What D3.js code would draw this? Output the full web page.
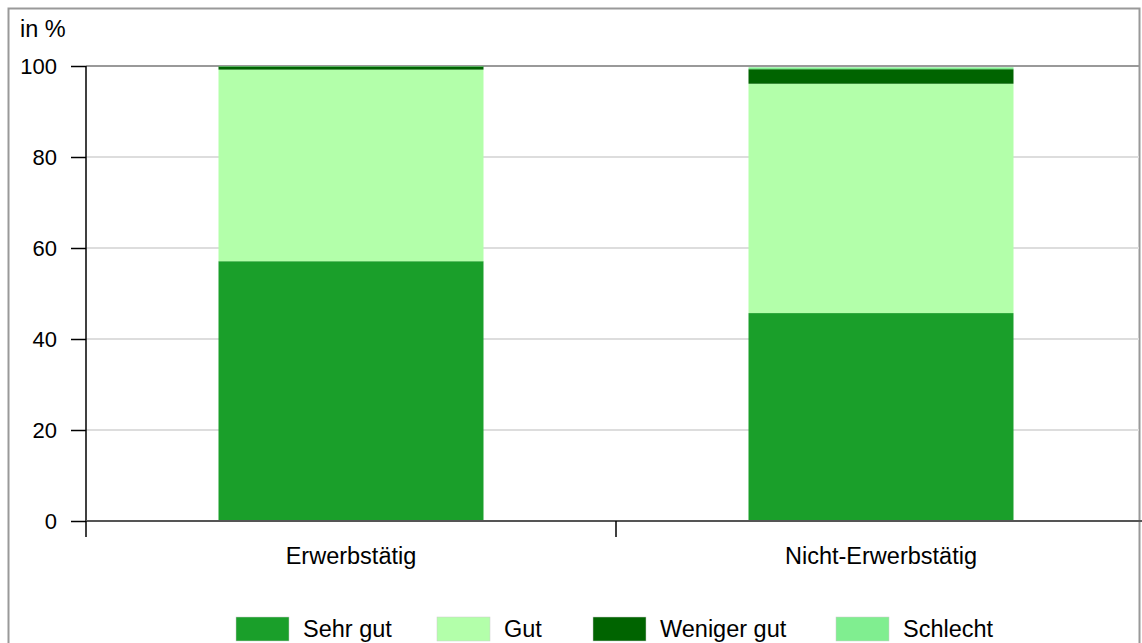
<!DOCTYPE html>
<html><head><meta charset="utf-8">
<script src="https://cdn.jsdelivr.net/npm/d3@7"></script>
<style>body{margin:0;background:#fff;}svg{display:block;font-family:"Liberation Sans",Arial,sans-serif;}</style>
</head><body><svg id="c" width="1142" height="643"></svg>
<script>
const categories = ["Erwerbstätig", "Nicht-Erwerbstätig"];
const seriesNames = ["Sehr gut", "Gut", "Weniger gut", "Schlecht"];
const sehrGut = [57.1, 45.7];
const gut = [42.1, 50.4];
const wenigerGut = [0.7, 3.2];
const schlecht = [0.1, 0.4];
const colors = ["#1a9f2a", "#b3ffaa", "#006400", "#80ee90"];
const yTicks = [0, 20, 40, 60, 80, 100];

const svg = d3.select("#c");
const m = {l: 86, t: 66, r: 1146, b: 521};
const x = d3.scaleBand().domain(categories).range([m.l, m.r]).paddingInner(0).paddingOuter(0);
const y = d3.scaleLinear().domain([0, 100]).range([m.b, m.t]);

// frame
svg.append("rect").attr("x", 8.5).attr("y", 8.5).attr("width", 1131).attr("height", 700)
  .attr("fill", "none").attr("stroke", "#999").attr("stroke-width", 2);

// gridlines
svg.append("g").selectAll("line").data(yTicks.filter(d => d > 0)).join("line")
  .attr("x1", m.l).attr("x2", 1139).attr("y1", d => y(d)).attr("y2", d => y(d))
  .attr("stroke", d => d === 100 ? "#999" : "#ddd").attr("stroke-width", 2);

const data = categories.map((c, i) => ({cat: c, "Sehr gut": sehrGut[i], "Gut": gut[i], "Weniger gut": wenigerGut[i], "Schlecht": schlecht[i]}));
const stack = d3.stack().keys(seriesNames)(data);
const bw = x.bandwidth() * 0.5;
svg.append("g").selectAll("g").data(stack).join("g")
  .attr("fill", (d, i) => colors[i])
  .selectAll("rect").data(d => d).join("rect")
  .attr("x", d => x(d.data.cat) + (x.bandwidth() - bw) / 2)
  .attr("width", bw)
  .attr("y", d => y(d[1]))
  .attr("height", d => y(d[0]) - y(d[1]));

// y axis
const ya = svg.append("g").attr("transform", `translate(${m.l},0)`)
  .call(d3.axisLeft(y).tickValues(yTicks).tickSize(15).tickPadding(14));
ya.select(".domain").attr("stroke", "#000").attr("stroke-width", 1.5).attr("d", `M0,${m.t}V${m.b}`);
ya.selectAll(".tick line").attr("stroke", "#000").attr("stroke-width", 1.5);
ya.selectAll("text").attr("font-size", 22).attr("fill", "#000").attr("font-family", "Liberation Sans, Arial, sans-serif");

// x axis
svg.append("line").attr("x1", m.l).attr("x2", 1142).attr("y1", m.b).attr("y2", m.b).attr("stroke", "#555").attr("stroke-width", 2);
svg.append("g").selectAll("line").data(categories).join("line")
  .attr("x1", d => x(d)).attr("x2", d => x(d)).attr("y1", m.b).attr("y2", m.b + 16)
  .attr("stroke", "#000").attr("stroke-width", 1.5);
svg.append("g").selectAll("text").data(categories).join("text")
  .attr("x", d => x(d) + x.bandwidth() / 2).attr("y", 564)
  .attr("text-anchor", "middle").attr("font-size", 23.5).text(d => d);

svg.append("text").attr("x", 20).attr("y", 37).attr("font-size", 23.5).text("in %");

// legend
const legX = [236, 437, 593, 836];
const lg = svg.append("g").selectAll("g").data(seriesNames).join("g")
  .attr("transform", (d, i) => `translate(${legX[i]},617)`);
lg.append("rect").attr("width", 53).attr("height", 24).attr("fill", (d, i) => colors[i])
  .attr("stroke", "#ccc").attr("stroke-width", 0.5);
lg.append("text").attr("x", 67).attr("y", 20).attr("font-size", 23.5).text(d => d);
</script></body></html>
